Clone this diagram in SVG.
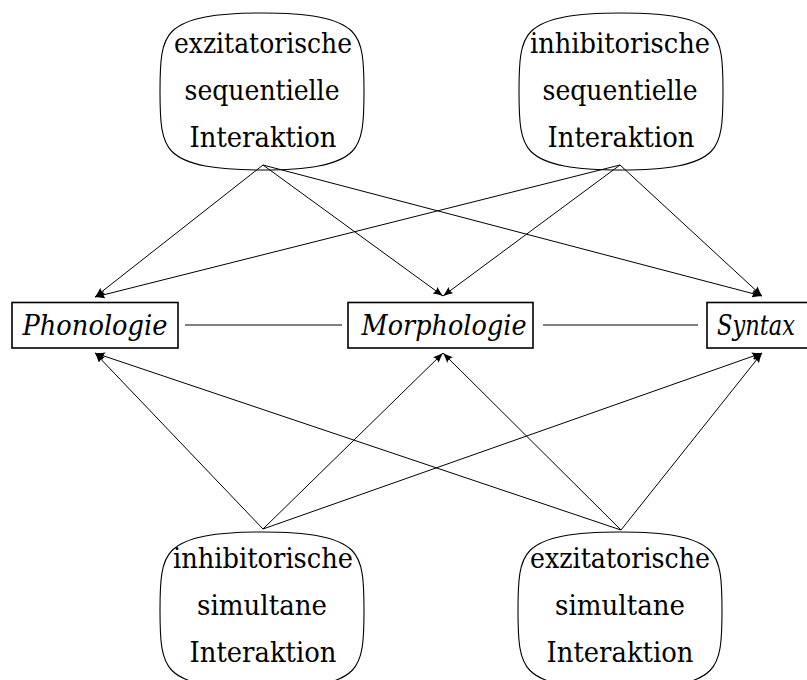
<svg xmlns="http://www.w3.org/2000/svg" xmlns:xlink="http://www.w3.org/1999/xlink" width="807" height="680" viewBox="0 0 807 680">
<style>
.bub{fill:none;stroke:#000;stroke-width:1.1}
.box{fill:#fff;stroke:#000;stroke-width:1.6}
.c{stroke:#000;stroke-width:1;fill:none}
.a{stroke:#000;stroke-width:1;fill:none;marker-end:url(#arr)}
</style>
<defs>
<path id="blob" d="M0,-78.5 C-45,-78.5 -76,-74 -90,-60 C-101,-49 -102,-30 -102,0 C-102,30 -101,49 -90,60 C-76,74 -45,78.5 0,78.5 C45,78.5 76,74 90,60 C101,49 102,30 102,0 C102,-30 101,-49 90,-60 C76,-74 45,-78.5 0,-78.5 Z"/>
<marker id="arr" viewBox="0 0 10 8" refX="10" refY="4" markerWidth="10" markerHeight="8" markerUnits="userSpaceOnUse" orient="auto">
<path d="M0,0 Q5,2.5 10,4 Q5,5.5 0,8 Q2.5,4 0,0 Z" fill="#000"/>
</marker>
</defs>
<g id="connectors">
<line class="c" x1="185" y1="325" x2="342" y2="325"/>
<line class="c" x1="543" y1="325" x2="698" y2="325"/>
<line class="a" x1="263" y1="165" x2="95" y2="297"/>
<line class="a" x1="263" y1="165" x2="443" y2="296"/>
<line class="a" x1="263" y1="165" x2="762" y2="296"/>
<line class="a" x1="620" y1="165" x2="95" y2="297"/>
<line class="a" x1="620" y1="165" x2="443" y2="296"/>
<line class="a" x1="620" y1="165" x2="762" y2="296"/>
<line class="a" x1="263" y1="529" x2="95" y2="353"/>
<line class="a" x1="263" y1="529" x2="443" y2="353"/>
<line class="a" x1="263" y1="529" x2="762" y2="353"/>
<line class="a" x1="621" y1="530" x2="95" y2="353"/>
<line class="a" x1="621" y1="530" x2="443" y2="353"/>
<line class="a" x1="621" y1="530" x2="762" y2="353"/>
</g>
<g font-family="DejaVu Serif, Liberation Serif, serif" font-size="28" fill="#000" text-anchor="middle">
<g id="exz-seq">
<use xlink:href="#blob" href="#blob" x="262" y="91.5" class="bub"/>
<text x="263" y="53" textLength="178" lengthAdjust="spacingAndGlyphs">exzitatorische</text>
<text x="262" y="100" textLength="155" lengthAdjust="spacingAndGlyphs">sequentielle</text>
<text x="263" y="147" textLength="147" lengthAdjust="spacingAndGlyphs">Interaktion</text>
</g>
<g id="inh-seq">
<use xlink:href="#blob" href="#blob" x="621" y="91.5" class="bub"/>
<text x="620" y="53" textLength="180" lengthAdjust="spacingAndGlyphs">inhibitorische</text>
<text x="620" y="100" textLength="155" lengthAdjust="spacingAndGlyphs">sequentielle</text>
<text x="621" y="147" textLength="147" lengthAdjust="spacingAndGlyphs">Interaktion</text>
</g>
<g id="phonologie">
<rect class="box" x="12" y="302.5" width="166" height="45.5"/>
<text x="95" y="335" font-style="italic" textLength="145" lengthAdjust="spacingAndGlyphs">Phonologie</text>
</g>
<g id="morphologie">
<rect class="box" x="348" y="302.5" width="185" height="45.5"/>
<text x="444" y="335" font-style="italic" textLength="165" lengthAdjust="spacingAndGlyphs">Morphologie</text>
</g>
<g id="syntax">
<rect class="box" x="707" y="302.5" width="112" height="45.5"/>
<text x="756" y="335" font-style="italic" textLength="78" lengthAdjust="spacingAndGlyphs">Syntax</text>
</g>
<g id="inh-sim">
<use xlink:href="#blob" href="#blob" x="262" y="610.5" class="bub"/>
<text x="263" y="568" textLength="180" lengthAdjust="spacingAndGlyphs">inhibitorische</text>
<text x="262" y="615" textLength="130" lengthAdjust="spacingAndGlyphs">simultane</text>
<text x="263" y="662" textLength="147" lengthAdjust="spacingAndGlyphs">Interaktion</text>
</g>
<g id="exz-sim">
<use xlink:href="#blob" href="#blob" x="620" y="610.5" class="bub"/>
<text x="620" y="568" textLength="180" lengthAdjust="spacingAndGlyphs">exzitatorische</text>
<text x="620" y="615" textLength="130" lengthAdjust="spacingAndGlyphs">simultane</text>
<text x="620" y="662" textLength="147" lengthAdjust="spacingAndGlyphs">Interaktion</text>
</g>
</g>
</svg>
